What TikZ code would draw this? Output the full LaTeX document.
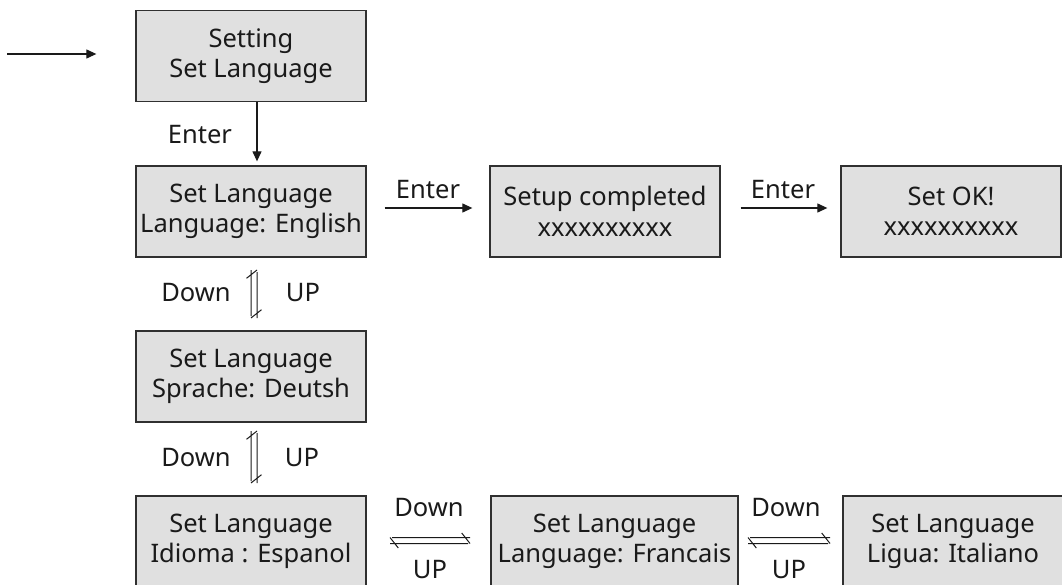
\documentclass[tikz,border=0pt]{standalone}
\usepackage{fontspec}
\setmainfont{Noto Sans}
\usetikzlibrary{arrows.meta,calc}
\definecolor{boxfill}{HTML}{E0E0E0}
\definecolor{boxline}{HTML}{303030}
\definecolor{ink}{HTML}{1A1A1A}
\tikzset{
  screen/.style={draw=boxline, line width=1.3pt, fill=boxfill, text=ink,
    align=center, inner sep=0pt, minimum height=91pt,
    font=\fontsize{25.5}{30.5}\selectfont},
  lbl/.style={text=ink, inner sep=0pt, font=\fontsize{25.5}{30.5}\selectfont},
  flow/.style={draw=ink, line width=1.2pt, -{Triangle[length=10pt,width=9pt]}},
  pics/dbl/.style={code={
    \draw[draw=ink, line width=1pt]
      (-#1+2,-3) -- (#1,-3)
      (-#1,3) -- (#1-2,3)
      (#1-8.3,-7.5) -- (#1,3)
      (-#1,-3) -- (-#1+8.3,7.5);
  }}
}
\begin{document}
\begin{tikzpicture}[x=1pt,y=-1pt]
\useasboundingbox (0,0) rectangle (1062,585);
\begin{scope}
\clip (0,0) rectangle (1062,585);
% screens
\node[screen, minimum width=230pt] (set)   at (251,56)    {Setting\\Set Language};
\node[screen, minimum width=230pt] (eng)   at (251,211.5) {Set Language\\Language: English};
\node[screen, minimum width=230pt] (setup) at (605,211.5) {Setup completed\\xxxxxxxxxx};
\node[screen, minimum width=220pt] (ok)    at (951,211.5) {Set OK!\\xxxxxxxxxx};
\node[screen, minimum width=230pt] (deu)   at (251,376.5) {Set Language\\Sprache: Deutsh};
\node[screen, minimum width=230pt] (esp)   at (251,541.5) {Set Language\\Idioma : Espanol};
\node[screen, minimum width=247pt] (fra)   at (614.5,541.5) {Set Language\\Language: Francais};
\node[screen, minimum width=220pt] (ita)   at (953,541.5) {Set Language\\Ligua: Italiano};
\end{scope}
% entry arrow
\coordinate (entry) at (7,54);
\draw[flow, shorten >=39pt] (entry) -- (set.west |- entry);
% Enter arrows
\draw[flow, shorten >=4pt] ([xshift=6pt]set.south) -- ([xshift=6pt]eng.north);
\node[lbl] (e1) at (200,135) {Enter};
\draw[flow, shorten <=18pt, shorten >=17pt] ([yshift=3.5pt]eng.east) -- ([yshift=3.5pt]setup.west);
\node[lbl] (e2) at (428,190) {Enter};
\draw[flow, shorten <=20pt, shorten >=13pt] ([yshift=3.5pt]setup.east) -- ([yshift=3.5pt]ok.west);
\node[lbl] (e3) at (783,190) {Enter};
% Down / UP pairs (vertical)
\pic[rotate=90] at ($($(eng.south)!0.5!(deu.north)$)+(3,0)$) {dbl=24};
\node[lbl] (d1) at (196,293) {Down};
\node[lbl] (u1) at (303,293) {UP};
\pic[rotate=90] at ($($(deu.south)!0.5!(esp.north)$)+(3,-2)$) {dbl=26};
\node[lbl] (d2) at (196,458) {Down};
\node[lbl] (u2) at (302,458) {UP};
% Down / UP pairs (horizontal)
\pic at ($($(esp.east)!0.5!(fra.west)$)+(1.5,-1)$) {dbl=40};
\node[lbl] (d3) at (429,508) {Down};
\node[lbl] (u3) at (430,570) {UP};
\pic at ($($(fra.east)!0.5!(ita.west)$)+(-1.5,-1)$) {dbl=41};
\node[lbl] (d4) at (786,508) {Down};
\node[lbl] (u4) at (789,570) {UP};
\end{tikzpicture}
\end{document}
